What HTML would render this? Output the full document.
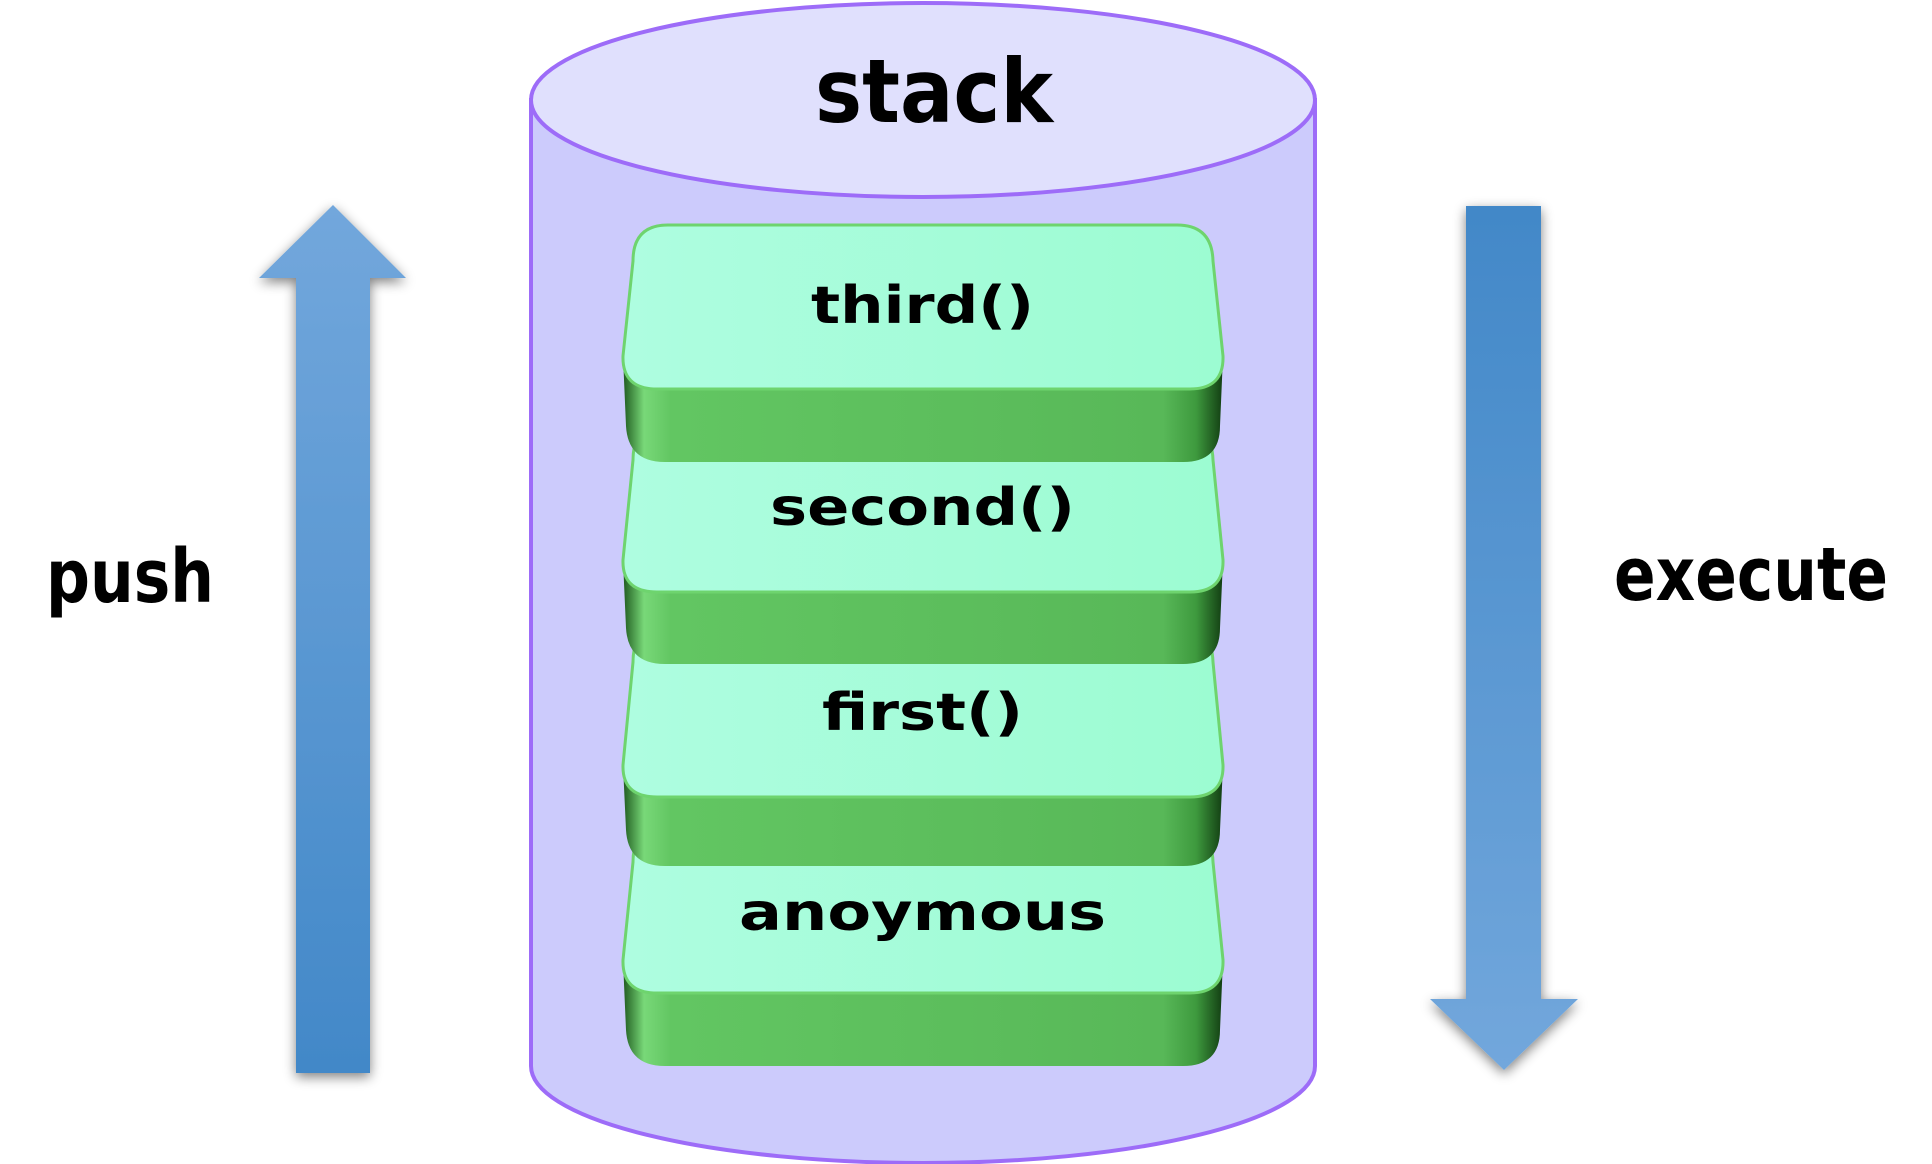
<!DOCTYPE html>
<html><head><meta charset="utf-8"><style>
html,body{margin:0;padding:0;background:#fff;}
svg{display:block;}
</style></head><body>
<svg width="1932" height="1164" viewBox="0 0 1932 1164" xmlns="http://www.w3.org/2000/svg">
<defs>
<linearGradient id="aup" x1="0" y1="0" x2="0" y2="1"><stop offset="0" stop-color="#72a7dc"/><stop offset="1" stop-color="#4288c8"/></linearGradient>
<linearGradient id="adn" x1="0" y1="0" x2="0" y2="1"><stop offset="0" stop-color="#4288c8"/><stop offset="1" stop-color="#72a7dc"/></linearGradient>
<linearGradient id="side" x1="0" y1="0" x2="1" y2="0">
<stop offset="0" stop-color="#1f5a1f"/><stop offset="0.035" stop-color="#78d878"/><stop offset="0.08" stop-color="#62c662"/><stop offset="0.9" stop-color="#58b858"/><stop offset="0.955" stop-color="#3e9a3e"/><stop offset="1" stop-color="#123d12"/></linearGradient>
<linearGradient id="face" x1="0" y1="0" x2="1" y2="0"><stop offset="0" stop-color="#aefde0"/><stop offset="1" stop-color="#9cfcd2"/></linearGradient>
<filter id="sh" x="-50%" y="-10%" width="200%" height="120%"><feGaussianBlur in="SourceAlpha" stdDeviation="6"/><feOffset dx="0" dy="4"/><feComponentTransfer><feFuncA type="linear" slope="0.5"/></feComponentTransfer><feMerge><feMergeNode/><feMergeNode in="SourceGraphic"/></feMerge></filter>
</defs>

<path d="M531 100 L531 1066 A392 97 0 0 0 1315 1066 L1315 100 Z" fill="#cccbfc" stroke="#9d6cf8" stroke-width="4"/>
<ellipse cx="923" cy="100" rx="392" ry="97" fill="#e0e0fd" stroke="#9d6cf8" stroke-width="4"/>
<text x="815" y="122" font-family="DejaVu Sans, sans-serif" font-weight="bold" font-size="88" fill="#000" textLength="238" lengthAdjust="spacingAndGlyphs">stack</text>

<g>
<path d="M623 960 L626 1030 Q628 1066 665 1066 L1183 1066 Q1220 1066 1220 1030 L1223 960 Z" fill="url(#side)"/>
<path d="M633 862 Q633 826 668 826 L1177 826 Q1212 826 1213 862 L1223 960 Q1224 993 1190 993 L657 993 Q622 993 623 960 Z" fill="url(#face)" stroke="#6ed46e" stroke-width="3"/>
</g>
<g>
<path d="M623 765 L626 830 Q628 866 665 866 L1183 866 Q1220 866 1220 830 L1223 765 Z" fill="url(#side)"/>
<path d="M633 662 Q633 626 668 626 L1177 626 Q1212 626 1213 662 L1223 765 Q1224 797 1190 797 L657 797 Q622 797 623 765 Z" fill="url(#face)" stroke="#6ed46e" stroke-width="3"/>
</g>
<g>
<path d="M623 560 L626 628 Q628 664 665 664 L1183 664 Q1220 664 1220 628 L1223 560 Z" fill="url(#side)"/>
<path d="M633 460 Q633 424 668 424 L1177 424 Q1212 424 1213 460 L1223 560 Q1224 592 1190 592 L657 592 Q622 592 623 560 Z" fill="url(#face)" stroke="#6ed46e" stroke-width="3"/>
</g>
<g>
<path d="M623 356 L626 426 Q628 462 665 462 L1183 462 Q1220 462 1220 426 L1223 356 Z" fill="url(#side)"/>
<path d="M633 261 Q633 225 668 225 L1177 225 Q1212 225 1213 261 L1223 356 Q1224 389 1190 389 L657 389 Q622 389 623 356 Z" fill="url(#face)" stroke="#6ed46e" stroke-width="3"/>
</g>

<g font-family="DejaVu Sans, sans-serif" font-weight="bold" font-size="52" fill="#000" lengthAdjust="spacingAndGlyphs">
<text x="811" y="323" textLength="223" lengthAdjust="spacingAndGlyphs">third()</text>
<text x="770" y="525" textLength="305" lengthAdjust="spacingAndGlyphs">second()</text>
<text x="822" y="730" textLength="201" lengthAdjust="spacingAndGlyphs">first()</text>
<text x="739" y="930" textLength="367" lengthAdjust="spacingAndGlyphs">anoymous</text>
</g>

<path d="M333 205 L406 278 L370 278 L370 1073 L296 1073 L296 278 L259 278 Z" fill="url(#aup)" filter="url(#sh)"/>
<path d="M1466 206 L1541 206 L1541 999 L1578 999 L1504 1070 L1430 999 L1466 999 Z" fill="url(#adn)" filter="url(#sh)"/>

<g font-family="DejaVu Sans, sans-serif" font-size="74" fill="#000">
<text x="46" y="602" font-weight="bold" textLength="168" lengthAdjust="spacingAndGlyphs">push</text>
<text x="1614" y="600" font-weight="bold" textLength="274" lengthAdjust="spacingAndGlyphs">execute</text>
</g>
</svg>
</body></html>
